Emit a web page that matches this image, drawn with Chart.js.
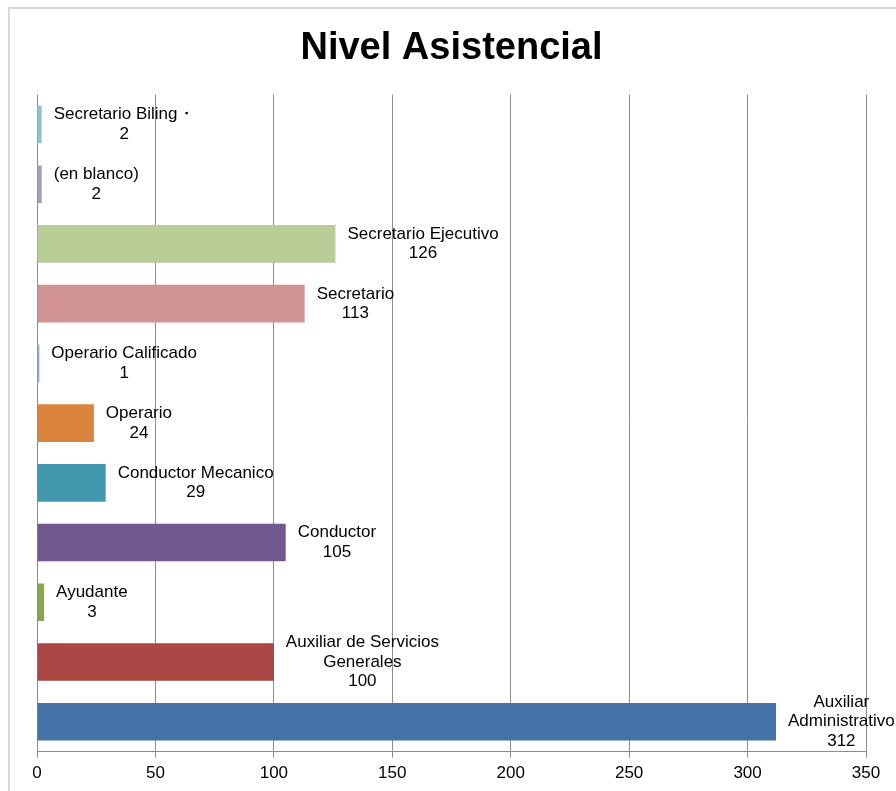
<!DOCTYPE html>
<html>
<head>
<meta charset="utf-8">
<script src="https://cdn.jsdelivr.net/npm/chart.js@4/dist/chart.umd.min.js"></script>
<style>
  body { margin: 0; background: #fff; }
  #wrap { position: relative; width: 896px; height: 791px; }
</style>
</head>
<body>
<div id="wrap"><canvas id="barChart" width="896" height="791"></canvas></div>
<script>
// categories as in the Excel source (bottom to top), label lines kept separate
var categories = [
  ['Auxiliar', 'Administrativo'],
  ['Auxiliar de Servicios', 'Generales'],
  ['Ayudante'],
  ['Conductor'],
  ['Conductor Mecanico'],
  ['Operario'],
  ['Operario Calificado'],
  ['Secretario'],
  ['Secretario Ejecutivo'],
  ['(en blanco)'],
  ['Secretario Biling\u30fb']
];
var counts = [312, 100, 3, 105, 29, 24, 1, 113, 126, 2, 2];
var barColors = ['#4572a7', '#aa4643', '#89a54e', '#71588f', '#4198af', '#db843d',
                 '#93a9cf', '#d19392', '#b9cd96', '#a99bbd', '#92c3d4'];
var xTicks = [0, 50, 100, 150, 200, 250, 300, 350];

var fontFamily = '"Liberation Sans", Arial, sans-serif';
var labelFont = '17px ' + fontFamily;

// frame line of the original chart object
var framePlugin = {
  id: 'frame',
  beforeDraw: function (chart) {
    var ctx = chart.ctx;
    ctx.save();
    ctx.strokeStyle = '#d9d9d9';
    ctx.lineWidth = 2;
    ctx.beginPath();
    ctx.moveTo(9, chart.height);
    ctx.lineTo(9, 8);
    ctx.lineTo(chart.width, 8);
    ctx.stroke();
    ctx.restore();
  }
};

// category name + value, written right of each bar end
var barLabels = {
  id: 'barLabels',
  afterDatasetsDraw: function (chart) {
    var ctx = chart.ctx;
    var meta = chart.getDatasetMeta(0);
    ctx.save();
    ctx.font = labelFont;
    ctx.fillStyle = '#000';
    ctx.textAlign = 'center';
    ctx.textBaseline = 'middle';
    meta.data.forEach(function (bar, i) {
      var lines = categories[i].concat([String(counts[i])]);
      var w = 0;
      lines.forEach(function (l) { w = Math.max(w, ctx.measureText(l).width); });
      var cx = bar.x + 12 + w / 2;
      var lh = 19.5;
      var y0 = bar.y - (lines.length - 1) * lh / 2;
      lines.forEach(function (l, k) {
        ctx.fillText(l, cx, y0 + k * lh);
      });
    });
    ctx.restore();
  }
};

var ctx = document.getElementById('barChart').getContext('2d');
var chart = new Chart(ctx, {
  type: 'bar',
  data: {
    labels: categories,
    datasets: [{
      data: counts,
      backgroundColor: barColors,
      borderWidth: 0,
      barPercentage: 0.63,
      categoryPercentage: 1
    }]
  },
  plugins: [framePlugin, barLabels],
  options: {
    indexAxis: 'y',
    responsive: false,
    animation: false,
    layout: { padding: { left: 37, right: 30, top: 0, bottom: 1 } },
    plugins: {
      legend: { display: false },
      tooltip: { enabled: false },
      title: {
        display: true,
        text: 'Nivel Asistencial',
        color: '#000',
        font: { family: fontFamily, size: 38, weight: 'bold' },
        padding: { top: 26, bottom: 23 }
      }
    },
    scales: {
      x: {
        min: xTicks[0],
        max: xTicks[xTicks.length - 1],
        afterBuildTicks: function (axis) {
          axis.ticks = xTicks.map(function (v) { return { value: v }; });
        },
        grid: { color: '#8c8c8c', lineWidth: 1, tickLength: 6 },
        border: { color: '#8c8c8c' },
        ticks: {
          color: '#000',
          padding: 6,
          maxRotation: 0,
          font: { family: fontFamily, size: 17 }
        }
      },
      y: {
        display: false,
        reverse: true
      }
    }
  }
});
</script>
</body>
</html>
